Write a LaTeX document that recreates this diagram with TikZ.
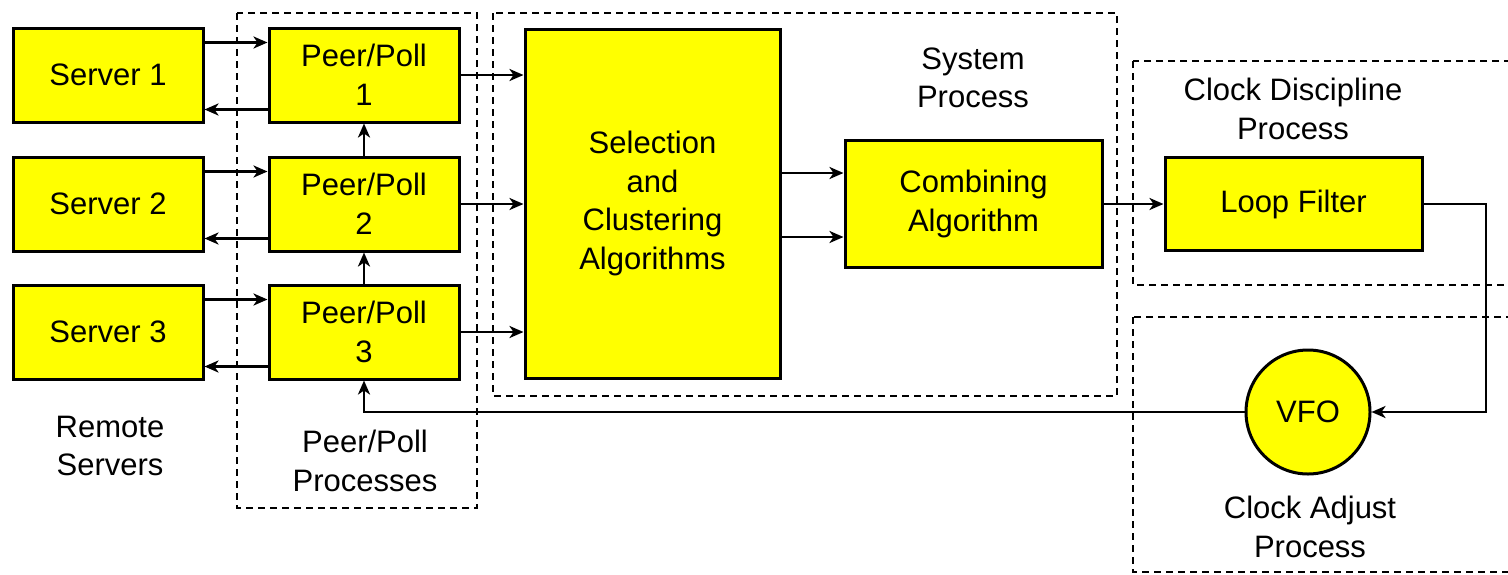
\documentclass[tikz,border=0pt]{standalone}
\usepackage{fontspec}
\setmainfont{Liberation Sans}
\usetikzlibrary{arrows.meta,calc}
\definecolor{boxyellow}{HTML}{FFFF00}
\begin{document}
\begin{tikzpicture}[x=1pt,y=-1pt,
  box/.style={draw=black,line width=3pt,fill=boxyellow,rectangle,inner sep=0pt,align=center},
  txt/.style={align=center,inner sep=0pt},
  arr/.style={line width=2.6pt,-{Stealth[length=14pt,width=12pt,inset=4pt]}},
  dbox/.style={line width=2.6pt,dash pattern=on 7pt off 5pt},
  every node/.style={font=\fontsize{31}{38.5}\selectfont}]
\clip (0,0) rectangle (1508,574);
\fill[white] (0,0) rectangle (1508,574);
% dashed process boxes
\draw[dbox] (237,13) rectangle (477,508);
\draw[dbox] (493,13) rectangle (1117,396);
\draw[dbox] (1133,61) rectangle (1530,285);
\draw[dbox] (1133,317) rectangle (1530,572);
% servers
\node[box,minimum width=190pt,minimum height=94pt] (s1) at (108,75) {Server 1};
\node[box,minimum width=190pt,minimum height=94pt] (s2) at (108,204) {Server 2};
\node[box,minimum width=190pt,minimum height=94pt] (s3) at (108,332) {Server 3};
% peer/poll
\node[box,minimum width=190pt,minimum height=94pt] (p1) at (364,75) {Peer/Poll\\1};
\node[box,minimum width=190pt,minimum height=94pt] (p2) at (364,204) {Peer/Poll\\2};
\node[box,minimum width=190pt,minimum height=94pt] (p3) at (364,332) {Peer/Poll\\3};
% selection, combining, loop filter, VFO
\node[box,minimum width=255pt,minimum height=349pt] (sel) at (652.5,203.5) {Selection\\and\\Clustering\\Algorithms};
\node[box,minimum width=257pt,minimum height=127pt] (comb) at (973.5,204) {Combining\\Algorithm};
\node[box,minimum width=257pt,minimum height=93pt] (loop) at (1293.5,204) {Loop Filter};
\node[box,circle,minimum size=124pt] (vfo) at (1308,412) {VFO};
% labels
\node[txt] (lrs) at (110,446) {Remote\\Servers};
\node[txt] (lpp) at (365,461) {Peer/Poll\\Processes};
\node[txt] (lsp) at (973,78) {System\\Process};
\node[txt] (lcd) at (1293,109) {Clock Discipline\\Process};
\node[txt] (lca) at (1310,527) {Clock Adjust\\Process};
% server <-> peer arrows
\draw[arr] ([yshift=-16pt]s1.north east) -- ([yshift=-16pt]p1.north west);
\draw[arr] ([yshift=14pt]p1.south west) -- ([yshift=14pt]s1.south east);
\draw[arr] ([yshift=-16pt]s2.north east) -- ([yshift=-16pt]p2.north west);
\draw[arr] ([yshift=14pt]p2.south west) -- ([yshift=14pt]s2.south east);
\draw[arr] ([yshift=-16pt]s3.north east) -- ([yshift=-16pt]p3.north west);
\draw[arr] ([yshift=14pt]p3.south west) -- ([yshift=14pt]s3.south east);
% peer chain
\draw[arr] (p2.north) -- (p1.south);
\draw[arr] (p3.north) -- (p2.south);
% peer -> selection
\draw[arr] (p1.east) -- (p1.east -| sel.west);
\draw[arr] (p2.east) -- (p2.east -| sel.west);
\draw[arr] (p3.east) -- (p3.east -| sel.west);
% selection -> combining
\coordinate (c1) at (0,173);
\coordinate (c2) at (0,237);
\draw[arr] (sel.east |- c1) -- (comb.west |- c1);
\draw[arr] (sel.east |- c2) -- (comb.west |- c2);
% combining -> loop filter
\draw[arr] (comb.east) -- (loop.west);
% loop filter -> VFO
\coordinate (turn) at (1486,412);
\draw[arr] (loop.east) -| (turn) -- (vfo.east);
% VFO -> peer 3
\draw[arr] (vfo.west) -| (p3.south);
\end{tikzpicture}
\end{document}
